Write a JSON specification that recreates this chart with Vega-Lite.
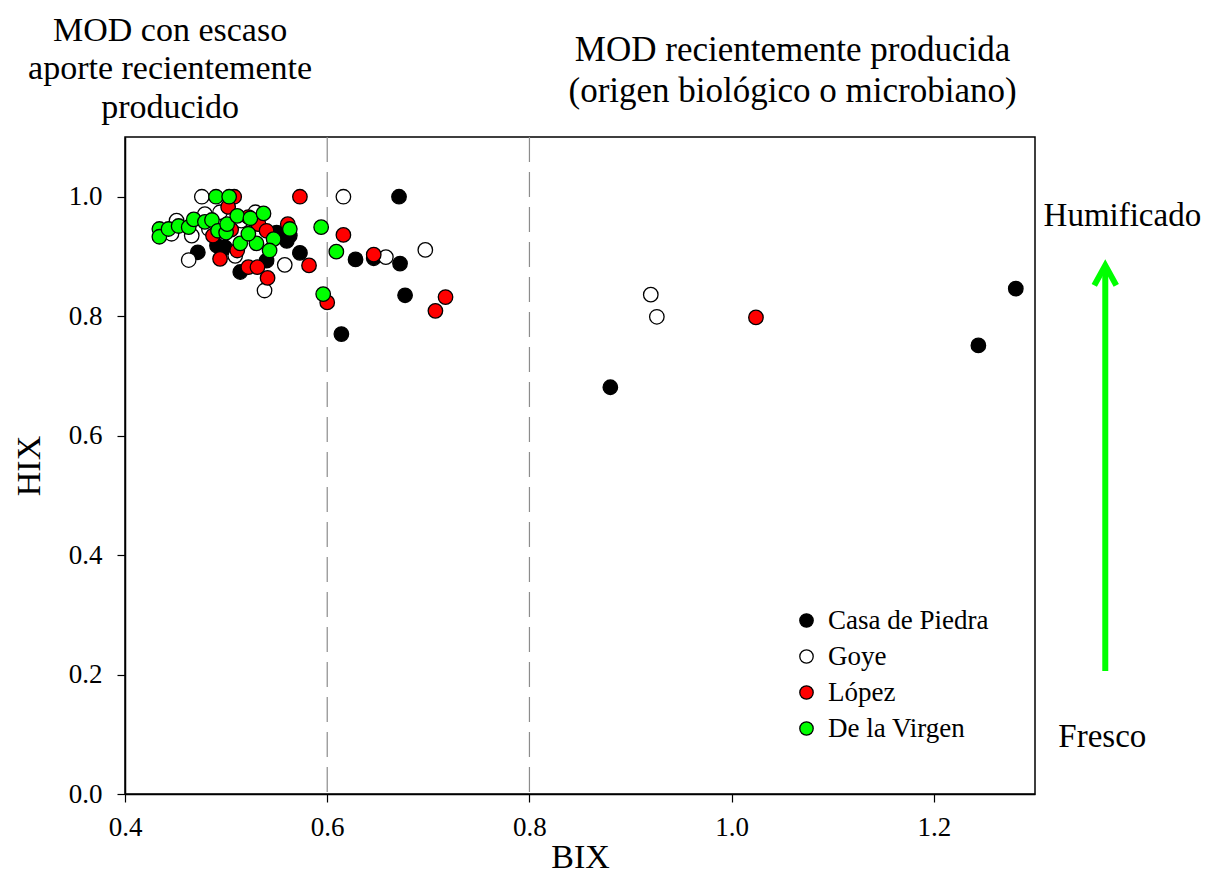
{
  "$schema": "https://vega.github.io/schema/vega-lite/v6.json",
  "width": 910,
  "height": 657,
  "autosize": {"type": "none"},
  "padding": {"left": 125, "top": 137, "right": 177, "bottom": 94},
  "background": "white",
  "config": {
    "font": "Liberation Serif",
    "view": {"stroke": "black", "strokeWidth": 1.5},
    "axis": {"grid": false, "labelFlush": false, "domainColor": "black", "domainWidth": 1.5, "tickColor": "black", "tickWidth": 1.2, "tickSize": 8, "labelFont": "Liberation Serif", "labelFontSize": 27, "labelColor": "black", "titleFont": "Liberation Serif", "titleFontSize": 34, "titleFontWeight": "normal", "titleColor": "black"}
  },
  "datasets": {
    "puntos": [
      {"sitio": "Casa de Piedra", "BIX": 0.671, "HIX": 1.0},
      {"sitio": "Casa de Piedra", "BIX": 1.281, "HIX": 0.846},
      {"sitio": "Casa de Piedra", "BIX": 1.244, "HIX": 0.751},
      {"sitio": "Casa de Piedra", "BIX": 0.880, "HIX": 0.681},
      {"sitio": "Casa de Piedra", "BIX": 0.614, "HIX": 0.770},
      {"sitio": "Casa de Piedra", "BIX": 0.677, "HIX": 0.835},
      {"sitio": "Casa de Piedra", "BIX": 0.672, "HIX": 0.888},
      {"sitio": "Casa de Piedra", "BIX": 0.646, "HIX": 0.897},
      {"sitio": "Casa de Piedra", "BIX": 0.628, "HIX": 0.895},
      {"sitio": "Casa de Piedra", "BIX": 0.573, "HIX": 0.906},
      {"sitio": "Casa de Piedra", "BIX": 0.472, "HIX": 0.907},
      {"sitio": "Casa de Piedra", "BIX": 0.514, "HIX": 0.874},
      {"sitio": "Casa de Piedra", "BIX": 0.540, "HIX": 0.893},
      {"sitio": "Casa de Piedra", "BIX": 0.560, "HIX": 0.926},
      {"sitio": "Casa de Piedra", "BIX": 0.550, "HIX": 0.940},
      {"sitio": "Casa de Piedra", "BIX": 0.491, "HIX": 0.918},
      {"sitio": "Casa de Piedra", "BIX": 0.499, "HIX": 0.915},
      {"sitio": "Casa de Piedra", "BIX": 0.563, "HIX": 0.935},
      {"sitio": "Goye", "BIX": 0.616, "HIX": 1.0},
      {"sitio": "Goye", "BIX": 0.697, "HIX": 0.911},
      {"sitio": "Goye", "BIX": 0.658, "HIX": 0.899},
      {"sitio": "Goye", "BIX": 0.920, "HIX": 0.836},
      {"sitio": "Goye", "BIX": 0.926, "HIX": 0.799},
      {"sitio": "Goye", "BIX": 0.558, "HIX": 0.886},
      {"sitio": "Goye", "BIX": 0.476, "HIX": 1.0},
      {"sitio": "Goye", "BIX": 0.451, "HIX": 0.960},
      {"sitio": "Goye", "BIX": 0.446, "HIX": 0.938},
      {"sitio": "Goye", "BIX": 0.466, "HIX": 0.935},
      {"sitio": "Goye", "BIX": 0.463, "HIX": 0.894},
      {"sitio": "Goye", "BIX": 0.479, "HIX": 0.971},
      {"sitio": "Goye", "BIX": 0.494, "HIX": 0.974},
      {"sitio": "Goye", "BIX": 0.529, "HIX": 0.974},
      {"sitio": "Goye", "BIX": 0.509, "HIX": 0.901},
      {"sitio": "Goye", "BIX": 0.538, "HIX": 0.843},
      {"sitio": "Goye", "BIX": 0.483, "HIX": 0.946},
      {"sitio": "Goye", "BIX": 0.515, "HIX": 0.960},
      {"sitio": "López", "BIX": 0.573, "HIX": 1.0},
      {"sitio": "López", "BIX": 0.616, "HIX": 0.936},
      {"sitio": "López", "BIX": 0.646, "HIX": 0.903},
      {"sitio": "López", "BIX": 0.582, "HIX": 0.885},
      {"sitio": "López", "BIX": 0.600, "HIX": 0.823},
      {"sitio": "López", "BIX": 0.717, "HIX": 0.832},
      {"sitio": "López", "BIX": 0.707, "HIX": 0.809},
      {"sitio": "López", "BIX": 1.024, "HIX": 0.798},
      {"sitio": "López", "BIX": 0.561, "HIX": 0.954},
      {"sitio": "López", "BIX": 0.508, "HIX": 1.0},
      {"sitio": "López", "BIX": 0.502, "HIX": 0.983},
      {"sitio": "López", "BIX": 0.494, "HIX": 0.896},
      {"sitio": "López", "BIX": 0.487, "HIX": 0.935},
      {"sitio": "López", "BIX": 0.522, "HIX": 0.882},
      {"sitio": "López", "BIX": 0.531, "HIX": 0.882},
      {"sitio": "López", "BIX": 0.541, "HIX": 0.864},
      {"sitio": "López", "BIX": 0.511, "HIX": 0.910},
      {"sitio": "López", "BIX": 0.532, "HIX": 0.954},
      {"sitio": "López", "BIX": 0.522, "HIX": 0.966},
      {"sitio": "López", "BIX": 0.540, "HIX": 0.943},
      {"sitio": "López", "BIX": 0.505, "HIX": 0.945},
      {"sitio": "De la Virgen", "BIX": 0.594, "HIX": 0.949},
      {"sitio": "De la Virgen", "BIX": 0.609, "HIX": 0.908},
      {"sitio": "De la Virgen", "BIX": 0.596, "HIX": 0.837},
      {"sitio": "De la Virgen", "BIX": 0.563, "HIX": 0.946},
      {"sitio": "De la Virgen", "BIX": 0.490, "HIX": 1.0},
      {"sitio": "De la Virgen", "BIX": 0.503, "HIX": 1.0},
      {"sitio": "De la Virgen", "BIX": 0.434, "HIX": 0.946},
      {"sitio": "De la Virgen", "BIX": 0.434, "HIX": 0.933},
      {"sitio": "De la Virgen", "BIX": 0.443, "HIX": 0.946},
      {"sitio": "De la Virgen", "BIX": 0.453, "HIX": 0.951},
      {"sitio": "De la Virgen", "BIX": 0.463, "HIX": 0.949},
      {"sitio": "De la Virgen", "BIX": 0.468, "HIX": 0.962},
      {"sitio": "De la Virgen", "BIX": 0.479, "HIX": 0.958},
      {"sitio": "De la Virgen", "BIX": 0.486, "HIX": 0.961},
      {"sitio": "De la Virgen", "BIX": 0.492, "HIX": 0.943},
      {"sitio": "De la Virgen", "BIX": 0.500, "HIX": 0.940},
      {"sitio": "De la Virgen", "BIX": 0.501, "HIX": 0.954},
      {"sitio": "De la Virgen", "BIX": 0.511, "HIX": 0.968},
      {"sitio": "De la Virgen", "BIX": 0.524, "HIX": 0.964},
      {"sitio": "De la Virgen", "BIX": 0.537, "HIX": 0.972},
      {"sitio": "De la Virgen", "BIX": 0.514, "HIX": 0.922},
      {"sitio": "De la Virgen", "BIX": 0.530, "HIX": 0.922},
      {"sitio": "De la Virgen", "BIX": 0.522, "HIX": 0.938},
      {"sitio": "De la Virgen", "BIX": 0.547, "HIX": 0.929},
      {"sitio": "De la Virgen", "BIX": 0.543, "HIX": 0.910}
    ],
    "limites": [{"BIX": 0.6}, {"BIX": 0.8}],
    "uno": [{}]
  },
  "layer": [
    {
      "data": {"name": "limites"},
      "mark": {"type": "rule", "color": "#8c8c8c", "strokeWidth": 1.2, "strokeDash": [25, 10]},
      "encoding": {
        "x": {"field": "BIX", "type": "quantitative", "scale": {"domain": [0.4, 1.3], "nice": false, "zero": false}}
      }
    },
    {
      "data": {"name": "puntos"},
      "mark": {"type": "point", "shape": "circle", "filled": true, "stroke": "black", "strokeWidth": 1.3, "size": 210, "opacity": 1},
      "encoding": {
        "x": {"field": "BIX", "type": "quantitative", "title": "BIX",
              "scale": {"domain": [0.4, 1.3], "nice": false, "zero": false},
              "axis": {"values": [0.4, 0.6, 0.8, 1.0, 1.2], "format": ".1f", "labelFont": "Liberation Serif", "labelFontSize": 27, "labelPadding": 12, "titlePadding": 0}},
        "y": {"field": "HIX", "type": "quantitative", "title": "HIX",
              "scale": {"domain": [0, 1.1], "nice": false, "zero": false},
              "axis": {"values": [0, 0.2, 0.4, 0.6, 0.8, 1.0], "format": ".1f", "labelFont": "Liberation Serif", "labelFontSize": 27, "labelPadding": 15, "titlePadding": 22}},
        "fill": {"field": "sitio", "type": "nominal", "title": null,
                 "scale": {"domain": ["Casa de Piedra", "Goye", "López", "De la Virgen"], "range": ["#000000", "#ffffff", "#ff0000", "#00ff00"]},
                 "legend": {"orient": "none", "legendX": 668, "legendY": 470, "symbolType": "circle", "symbolSize": 180, "symbolStrokeColor": "black", "symbolStrokeWidth": 1.3, "labelFont": "Liberation Serif", "labelFontSize": 27, "labelLimit": 400, "labelColor": "black", "labelOffset": 8, "rowPadding": 8, "padding": 0}}
      }
    },
    {
      "data": {"name": "uno"},
      "mark": {"type": "text", "text": ["MOD con escaso", "aporte recientemente", "producido"], "font": "Liberation Serif", "fontSize": 34, "lineHeight": 38.5, "align": "center", "baseline": "middle", "color": "black"},
      "encoding": {"x": {"datum": 0.4446, "type": "quantitative"}, "y": {"datum": 1.2776, "type": "quantitative"}}
    },
    {
      "data": {"name": "uno"},
      "mark": {"type": "text", "text": ["MOD recientemente producida", "(origen biológico o microbiano)"], "font": "Liberation Serif", "fontSize": 35, "lineHeight": 41, "align": "center", "baseline": "middle", "color": "black"},
      "encoding": {"x": {"datum": 1.0602, "type": "quantitative"}, "y": {"datum": 1.2458, "type": "quantitative"}}
    },
    {
      "data": {"name": "uno"},
      "mark": {"type": "text", "text": "Humificado", "font": "Liberation Serif", "fontSize": 33, "align": "center", "baseline": "middle", "color": "black"},
      "encoding": {"x": {"datum": 1.3864, "type": "quantitative"}, "y": {"datum": 0.968, "type": "quantitative"}}
    },
    {
      "data": {"name": "uno"},
      "mark": {"type": "text", "text": "Fresco", "font": "Liberation Serif", "fontSize": 33, "align": "center", "baseline": "middle", "color": "black"},
      "encoding": {"x": {"datum": 1.3666, "type": "quantitative"}, "y": {"datum": 0.0953, "type": "quantitative"}}
    },
    {
      "data": {"name": "uno"},
      "mark": {"type": "rule", "color": "#00ff00", "strokeWidth": 6},
      "encoding": {"x": {"datum": 1.3695, "type": "quantitative"}, "y": {"datum": 0.206, "type": "quantitative"}, "y2": {"datum": 0.878}}
    },
    {
      "data": {"name": "uno"},
      "mark": {"type": "point", "shape": "M-0.55,1L0,0L0.55,1", "filled": false, "stroke": "#00ff00", "strokeWidth": 6, "size": 1600, "opacity": 1},
      "encoding": {"x": {"datum": 1.3695, "type": "quantitative"}, "y": {"datum": 0.885, "type": "quantitative"}}
    }
  ]
}
